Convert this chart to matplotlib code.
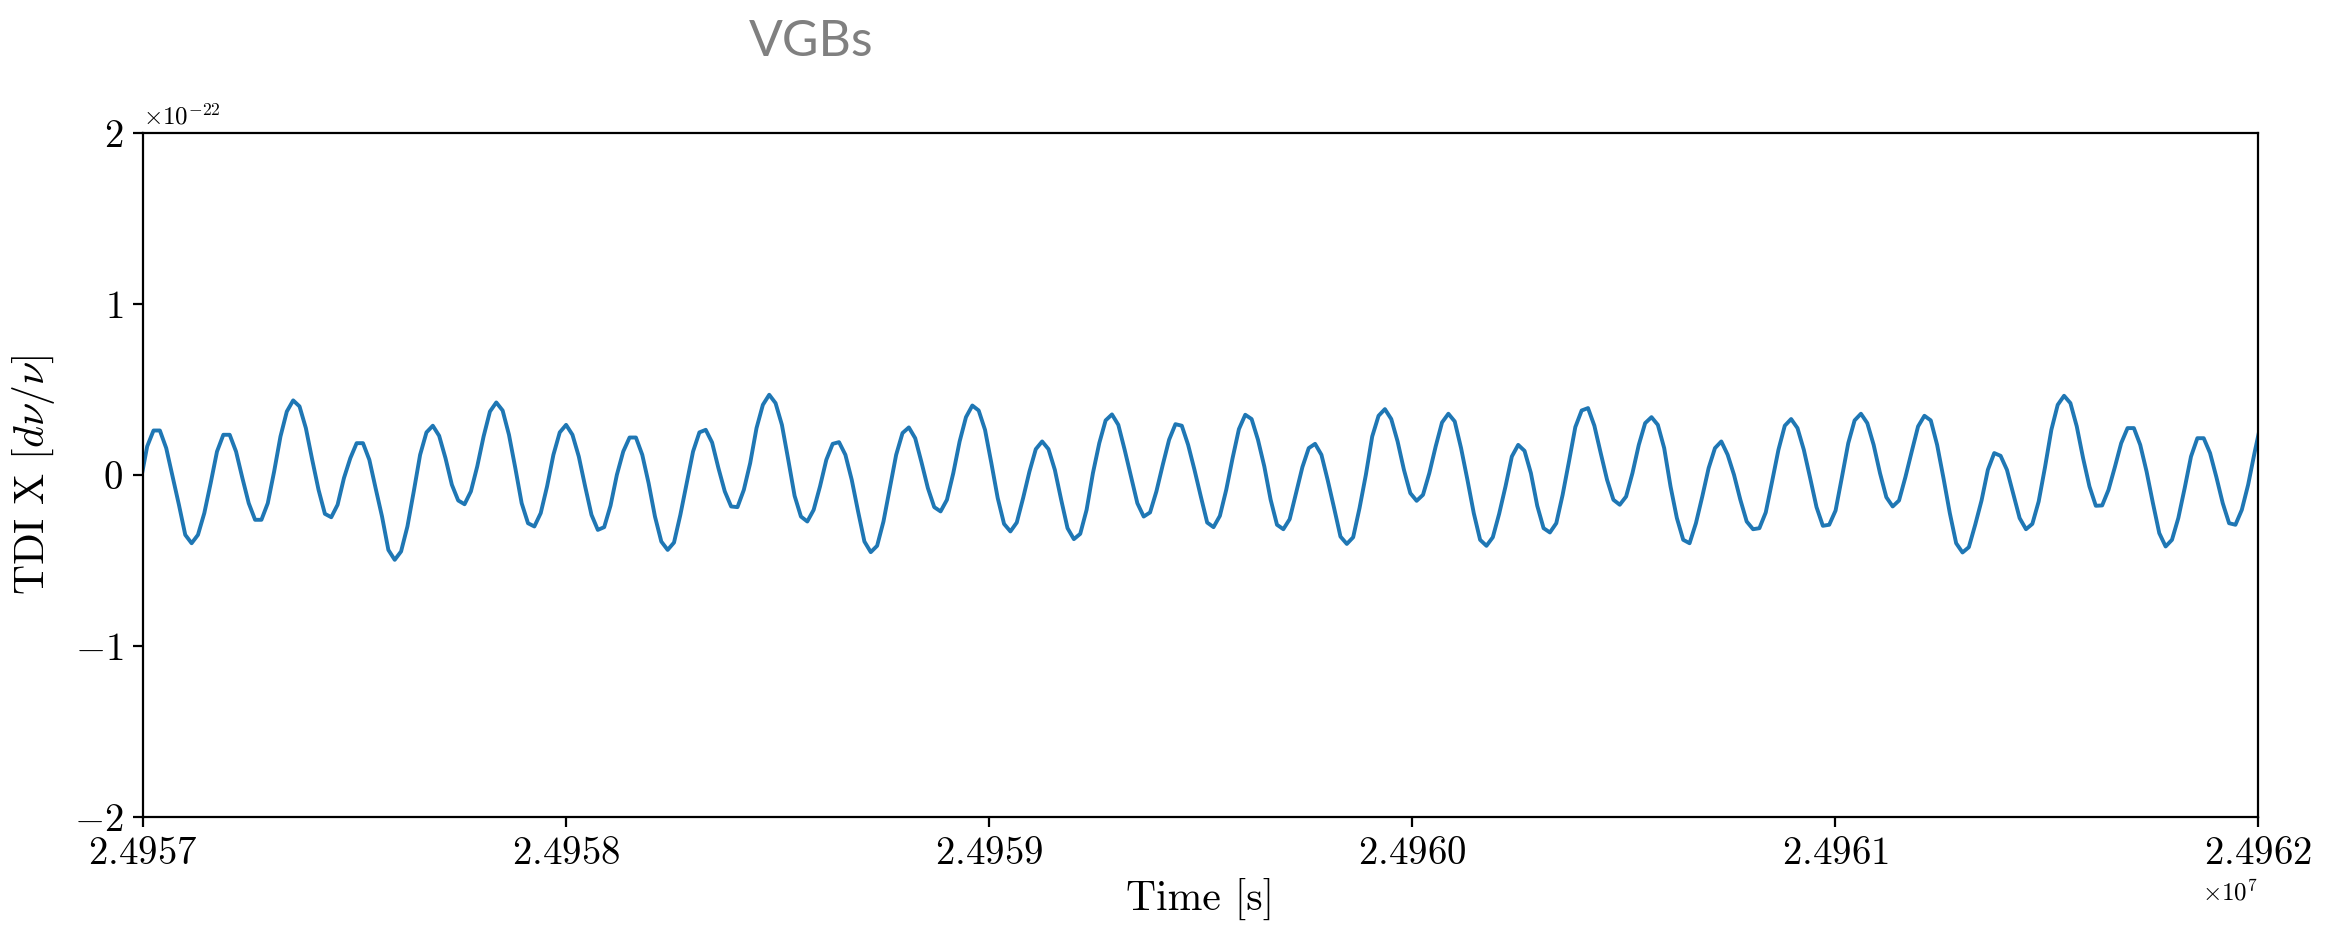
import numpy as np
import matplotlib
matplotlib.use("Agg")
import matplotlib.pyplot as plt

plt.rcParams['font.family'] = 'cmr10'
plt.rcParams['mathtext.fontset'] = 'cm'
plt.rcParams['axes.formatter.use_mathtext'] = True

# TDI X time series around t = 2.4957e7 s, sampled every 15 s (units of 1e-22)
t_start = 2.4957e7 - 4.2
dt = 15.0
tdi_x = [
    -0.030, 0.166, 0.259, 0.259, 0.156, -0.010, -0.175, -0.351, -0.400, -0.351,
    -0.224, -0.049, 0.136, 0.234, 0.234, 0.136, -0.019, -0.166, -0.263, -0.263,
    -0.166, 0.019, 0.224, 0.370, 0.435, 0.400, 0.273, 0.088, -0.088, -0.228,
    -0.248, -0.175, -0.019, 0.097, 0.185, 0.185, 0.088, -0.080, -0.244, -0.439,
    -0.497, -0.448, -0.302, -0.097, 0.117, 0.248, 0.287, 0.228, 0.097, -0.058,
    -0.150, -0.172, -0.097, 0.049, 0.224, 0.370, 0.423, 0.376, 0.234, 0.039,
    -0.166, -0.283, -0.302, -0.224, -0.068, 0.117, 0.248, 0.292, 0.234, 0.107,
    -0.068, -0.234, -0.322, -0.306, -0.180, 0.000, 0.136, 0.218, 0.218, 0.117,
    -0.049, -0.244, -0.390, -0.439, -0.396, -0.234, -0.049, 0.136, 0.248, 0.263,
    0.189, 0.039, -0.097, -0.185, -0.189, -0.088, 0.068, 0.273, 0.409, 0.468,
    0.419, 0.292, 0.088, -0.123, -0.244, -0.273, -0.205, -0.068, 0.088, 0.181,
    0.191, 0.117, -0.029, -0.214, -0.390, -0.452, -0.415, -0.273, -0.078, 0.117,
    0.244, 0.277, 0.214, 0.072, -0.078, -0.189, -0.214, -0.146, 0.010, 0.195,
    0.337, 0.405, 0.376, 0.263, 0.068, -0.136, -0.287, -0.331, -0.279, -0.136,
    0.019, 0.150, 0.195, 0.150, 0.029, -0.146, -0.312, -0.376, -0.345, -0.205,
    0.010, 0.185, 0.318, 0.353, 0.292, 0.146, -0.010, -0.166, -0.244, -0.220,
    -0.097, 0.058, 0.205, 0.296, 0.287, 0.175, 0.029, -0.127, -0.279, -0.306,
    -0.240, -0.088, 0.097, 0.267, 0.351, 0.326, 0.205, 0.049, -0.146, -0.292,
    -0.318, -0.259, -0.107, 0.045, 0.156, 0.181, 0.117, -0.033, -0.195, -0.361,
    -0.404, -0.365, -0.195, 0.000, 0.224, 0.345, 0.384, 0.326, 0.195, 0.029,
    -0.107, -0.152, -0.117, 0.010, 0.166, 0.306, 0.357, 0.312, 0.156, -0.029,
    -0.224, -0.380, -0.415, -0.365, -0.228, -0.068, 0.107, 0.175, 0.140, 0.010,
    -0.181, -0.312, -0.337, -0.283, -0.117, 0.078, 0.279, 0.376, 0.390, 0.287,
    0.127, -0.029, -0.146, -0.175, -0.127, 0.010, 0.175, 0.302, 0.337, 0.292,
    0.156, -0.068, -0.253, -0.380, -0.400, -0.283, -0.127, 0.039, 0.156, 0.195,
    0.117, 0.000, -0.146, -0.273, -0.318, -0.312, -0.220, -0.039, 0.146, 0.287,
    0.326, 0.273, 0.146, -0.019, -0.189, -0.298, -0.292, -0.209, -0.014, 0.185,
    0.318, 0.357, 0.302, 0.175, 0.010, -0.131, -0.185, -0.150, -0.014, 0.136,
    0.283, 0.345, 0.318, 0.175, -0.019, -0.224, -0.400, -0.454, -0.423, -0.292,
    -0.150, 0.030, 0.127, 0.111, 0.029, -0.111, -0.253, -0.318, -0.287, -0.156,
    0.045, 0.263, 0.409, 0.462, 0.419, 0.283, 0.097, -0.068, -0.181, -0.179,
    -0.088, 0.045, 0.185, 0.273, 0.273, 0.175, 0.019, -0.166, -0.341, -0.419,
    -0.380, -0.253, -0.078, 0.107, 0.214, 0.214, 0.127, -0.014, -0.166, -0.283,
    -0.292, -0.205, -0.058, 0.127, 0.300,
]
x_ticks = [2.4957e7, 2.4958e7, 2.4959e7, 2.4960e7, 2.4961e7, 2.4962e7]
y_ticks = [-2e-22, -1e-22, 0.0, 1e-22, 2e-22]

t = t_start + dt * np.arange(len(tdi_x))
x = np.array(tdi_x) * 1e-22

fig = plt.figure(figsize=(11.67, 4.635), dpi=200)
ax = fig.add_axes([0.0611, 0.1187, 0.9065, 0.7382])
ax.plot(t, x, color='#1f77b4', linewidth=1.4)

ax.set_xlim(x_ticks[0], x_ticks[-1])
ax.set_ylim(y_ticks[0], y_ticks[-1])
ax.set_xticks(x_ticks)
ax.set_yticks(y_ticks)
ax.ticklabel_format(useOffset=False)
ax.tick_params(labelsize=14)
ax.xaxis.get_offset_text().set_fontsize(9)
ax.yaxis.get_offset_text().set_fontsize(9)

ax.set_xlabel('Time [s]', fontsize=15, labelpad=2)
ax.set_ylabel(r'TDI X [$d\nu/\nu$]', fontsize=15, labelpad=6)

fig.text(0.3476, 0.955, 'VGBs', fontsize=18, color='#808080',
         family='Lato', ha='center', va='center')

fig.savefig('out.png', dpi=200)
